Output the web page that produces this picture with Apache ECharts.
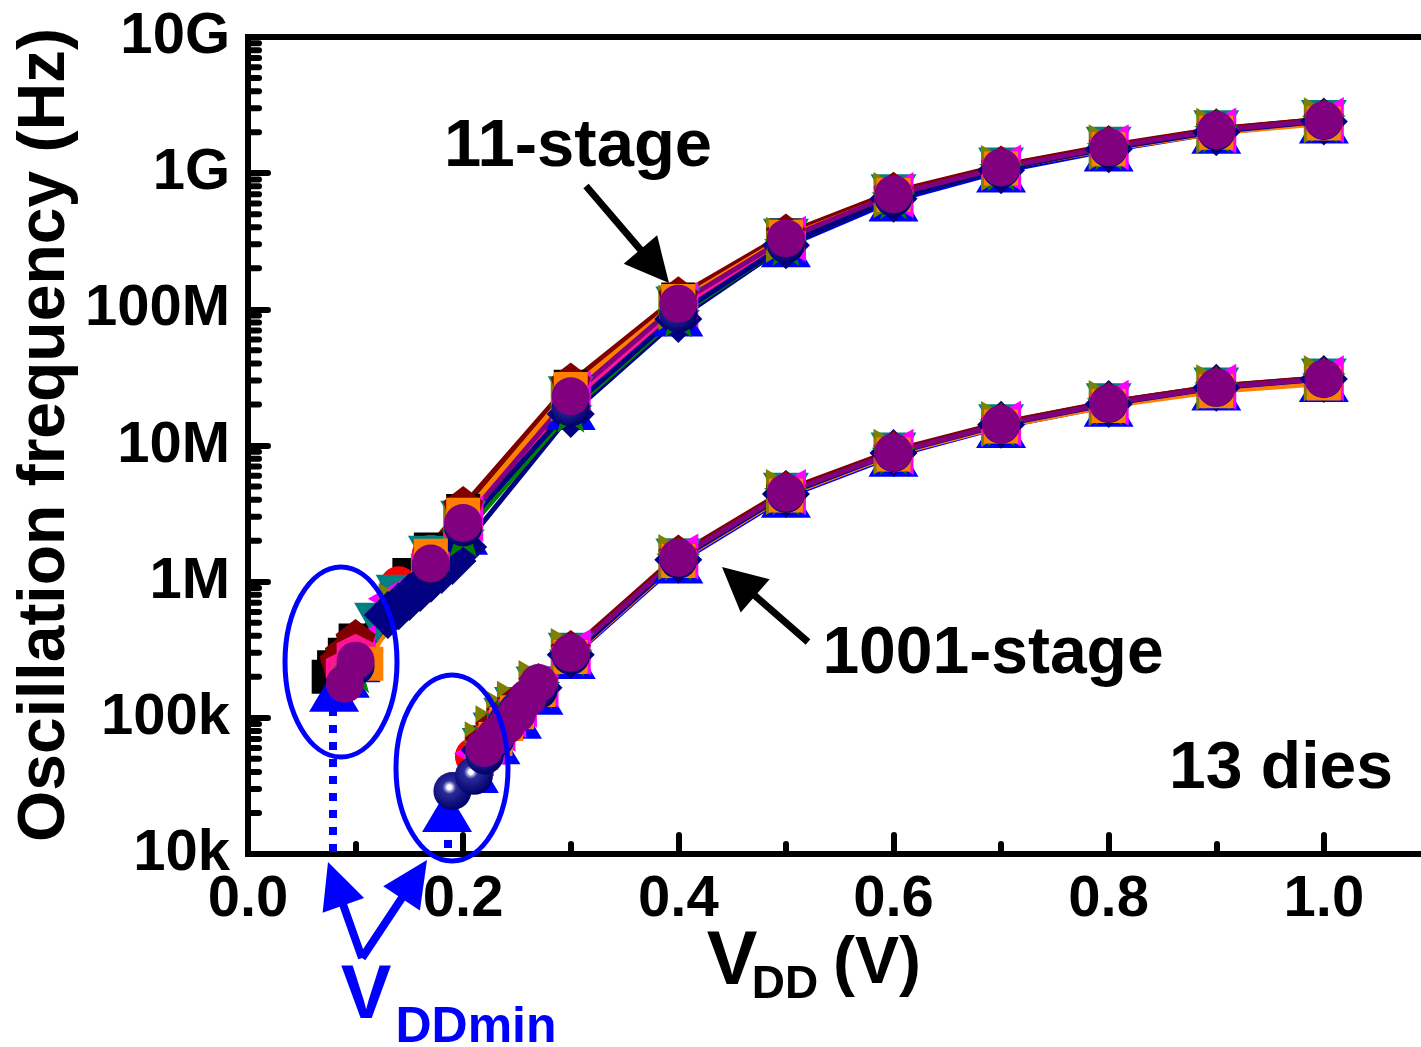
<!DOCTYPE html>
<html><head><meta charset="utf-8">
<script src="https://cdn.jsdelivr.net/npm/echarts@6/dist/echarts.min.js"></script>
<style>html,body{margin:0;padding:0;background:#fff}#c{width:1421px;height:1047px}</style>
</head><body><div id="c"></div>
<script>
// ---------- DATA ----------
const yTickLabels = ['10k','100k','1M','10M','100M','1G','10G'];
const yMinorTicks = [2e4,3e4,4e4,5e4,6e4,7e4,8e4,9e4,2e5,3e5,4e5,5e5,6e5,7e5,8e5,9e5,2e6,3e6,4e6,5e6,6e6,7e6,8e6,9e6,2e7,3e7,4e7,5e7,6e7,7e7,8e7,9e7,2e8,3e8,4e8,5e8,6e8,7e8,8e8,9e8,2e9,3e9,4e9,5e9,6e9,7e9,8e9,9e9];

const d01_11 = [[0.075,2.0e5],[0.08,2.35e5],[0.09,2.9e5],[0.1,3.7e5],[0.15,1.12e6],[0.17,1.72e6],[0.2,3.3e6],[0.3,2.7e7],[0.4,1.18e8],[0.5,3.5e8],[0.6,7.2e8],[0.7,1.13e9],[0.8,1.58e9],[0.9,2.1e9],[1.0,2.5e9]];
const d01_1001 = [[0.22,6.6e4],[0.23,8.3e4],[0.24,1.05e5],[0.25,1.26e5],[0.27,1.78e5],[0.3,3.1e5],[0.4,1.55e6],[0.5,4.6e6],[0.6,9.1e6],[0.7,1.46e7],[0.8,2.08e7],[0.9,2.72e7],[1.0,3.15e7]];
const d02_11 = [[0.09,2.5e5],[0.1,3.2e5],[0.14,9.4e5],[0.17,1.6e6],[0.2,3.0e6],[0.3,2.5e7],[0.4,1.12e8],[0.5,3.4e8],[0.6,7.1e8],[0.7,1.12e9],[0.8,1.57e9],[0.9,2.08e9],[1.0,2.47e9]];
const d02_1001 = [[0.21,5.2e4],[0.22,6.3e4],[0.23,8.1e4],[0.24,1.03e5],[0.25,1.23e5],[0.27,1.72e5],[0.3,2.95e5],[0.4,1.5e6],[0.5,4.5e6],[0.6,8.9e6],[0.7,1.43e7],[0.8,2.03e7],[0.9,2.66e7],[1.0,3.08e7]];
const d03_11 = [[0.08,1.58e5],[0.09,2.0e5],[0.1,2.6e5],[0.2,2.25e6],[0.3,1.85e7],[0.4,9.0e7],[0.5,2.9e8],[0.6,6.3e8],[0.7,1.03e9],[0.8,1.47e9],[0.9,1.98e9],[1.0,2.36e9]];
const d03_1001 = [[0.185,2.07e4],[0.21,4.0e4],[0.23,6.5e4],[0.25,1.0e5],[0.27,1.5e5],[0.3,2.75e5],[0.4,1.38e6],[0.5,4.2e6],[0.6,8.4e6],[0.7,1.37e7],[0.8,1.96e7],[0.9,2.58e7],[1.0,2.98e7]];
const d04_11 = [[0.12,5.0e5],[0.14,8.0e5],[0.17,1.55e6],[0.2,2.8e6],[0.3,2.3e7],[0.4,1.05e8],[0.5,3.3e8],[0.6,7.0e8],[0.7,1.1e9],[0.8,1.56e9],[0.9,2.07e9],[1.0,2.46e9]];
const d04_1001 = [[0.22,6.0e4],[0.23,7.8e4],[0.24,1.0e5],[0.25,1.2e5],[0.27,1.7e5],[0.3,3.0e5],[0.4,1.48e6],[0.5,4.5e6],[0.6,8.9e6],[0.7,1.43e7],[0.8,2.04e7],[0.9,2.67e7],[1.0,3.1e7]];
const d05_11 = [[0.1,3.3e5],[0.13,7.5e5],[0.17,1.5e6],[0.2,2.9e6],[0.3,2.4e7],[0.4,1.08e8],[0.5,3.3e8],[0.6,6.9e8],[0.7,1.1e9],[0.8,1.55e9],[0.9,2.06e9],[1.0,2.46e9]];
const d05_1001 = [[0.21,5.5e4],[0.22,6.6e4],[0.23,8.3e4],[0.24,1.05e5],[0.25,1.25e5],[0.27,1.75e5],[0.3,3.05e5],[0.4,1.53e6],[0.5,4.55e6],[0.6,9.0e6],[0.7,1.45e7],[0.8,2.06e7],[0.9,2.7e7],[1.0,3.12e7]];
const d06_11 = [[0.14,6.6e5],[0.17,1.1e6],[0.2,2.5e6],[0.3,2.2e7],[0.4,1.03e8],[0.5,3.25e8],[0.6,6.9e8],[0.7,1.09e9],[0.8,1.55e9],[0.9,2.05e9],[1.0,2.45e9]];
const d06_1001 = [[0.22,6.4e4],[0.23,8.4e4],[0.24,1.07e5],[0.25,1.27e5],[0.27,1.8e5],[0.3,3.1e5],[0.4,1.52e6],[0.5,4.55e6],[0.6,9.0e6],[0.7,1.44e7],[0.8,2.05e7],[0.9,2.68e7],[1.0,3.12e7]];
const d07_11 = [[0.13,5.7e5],[0.14,6.6e5],[0.15,7.7e5],[0.16,9.0e5],[0.17,1.05e6],[0.18,1.22e6],[0.19,1.42e6],[0.2,1.8e6],[0.3,1.7e7],[0.4,8.5e7],[0.5,2.95e8],[0.6,6.5e8],[0.7,1.05e9],[0.8,1.5e9],[0.9,2.0e9],[1.0,2.4e9]];
const d07_1001 = [[0.22,5.8e4],[0.23,7.6e4],[0.24,9.8e4],[0.25,1.18e5],[0.27,1.66e5],[0.3,2.9e5],[0.4,1.45e6],[0.5,4.4e6],[0.6,8.8e6],[0.7,1.42e7],[0.8,2.02e7],[0.9,2.65e7],[1.0,3.08e7]];
const d08_11 = [[0.085,2.6e5],[0.09,3.0e5],[0.1,3.8e5],[0.2,3.6e6],[0.3,2.9e7],[0.4,1.25e8],[0.5,3.6e8],[0.6,7.3e8],[0.7,1.14e9],[0.8,1.6e9],[0.9,2.12e9],[1.0,2.5e9]];
const d08_1001 = [[0.22,6.6e4],[0.23,8.5e4],[0.24,1.07e5],[0.25,1.28e5],[0.27,1.8e5],[0.3,3.15e5],[0.4,1.58e6],[0.5,4.7e6],[0.6,9.2e6],[0.7,1.47e7],[0.8,2.09e7],[0.9,2.73e7],[1.0,3.16e7]];
const d09_11 = [[0.09,2.3e5],[0.1,3.0e5],[0.17,1.4e6],[0.2,2.5e6],[0.3,2.1e7],[0.4,1.0e8],[0.5,3.2e8],[0.6,6.8e8],[0.7,1.08e9],[0.8,1.53e9],[0.9,2.04e9],[1.0,2.43e9]];
const d09_1001 = [[0.22,5.7e4],[0.23,7.4e4],[0.24,9.6e4],[0.25,1.16e5],[0.27,1.65e5],[0.3,2.85e5],[0.4,1.45e6],[0.5,4.4e6],[0.6,8.7e6],[0.7,1.41e7],[0.8,2.01e7],[0.9,2.63e7],[1.0,3.05e7]];
const d10_11 = [[0.1,2.2e5],[0.2,2.2e6],[0.3,1.8e7],[0.4,9.0e7],[0.5,3.0e8],[0.6,6.6e8],[0.7,1.07e9],[0.8,1.52e9],[0.9,2.03e9],[1.0,2.42e9]];
const d10_1001 = [[0.22,6.0e4],[0.23,7.8e4],[0.24,9.9e4],[0.25,1.19e5],[0.27,1.68e5],[0.3,2.9e5],[0.4,1.47e6],[0.5,4.45e6],[0.6,8.8e6],[0.7,1.42e7],[0.8,2.03e7],[0.9,2.66e7],[1.0,3.09e7]];
const d11_11 = [[0.11,2.5e5],[0.17,1.55e6],[0.2,3.1e6],[0.3,2.6e7],[0.4,1.15e8],[0.5,3.4e8],[0.6,6.9e8],[0.7,1.08e9],[0.8,1.5e9],[0.9,1.98e9],[1.0,2.32e9]];
const d11_1001 = [[0.23,7.0e4],[0.24,9.0e4],[0.25,1.1e5],[0.27,1.6e5],[0.3,2.8e5],[0.4,1.42e6],[0.5,4.3e6],[0.6,8.6e6],[0.7,1.38e7],[0.8,1.95e7],[0.9,2.5e7],[1.0,2.85e7]];
const d12_11 = [[0.1,2.4e5],[0.17,1.3e6],[0.2,2.5e6],[0.3,1.9e7],[0.4,9.3e7],[0.5,3.0e8],[0.6,6.6e8],[0.7,1.07e9],[0.8,1.52e9],[0.9,2.02e9],[1.0,2.42e9]];
const d12_1001 = [[0.19,2.9e4],[0.21,3.75e4],[0.22,5.3e4],[0.23,7.0e4],[0.24,9.2e4],[0.25,1.12e5],[0.27,1.6e5],[0.3,2.85e5],[0.4,1.45e6],[0.5,4.4e6],[0.6,8.8e6],[0.7,1.42e7],[0.8,2.02e7],[0.9,2.65e7],[1.0,3.08e7]];
const d13_11 = [[0.09,1.78e5],[0.1,2.63e5],[0.17,1.36e6],[0.2,2.7e6],[0.3,2.3e7],[0.4,1.1e8],[0.5,3.33e8],[0.6,7.0e8],[0.7,1.1e9],[0.8,1.55e9],[0.9,2.07e9],[1.0,2.45e9]];
const d13_1001 = [[0.22,6.0e4],[0.23,7.3e4],[0.24,8.8e4],[0.25,1.07e5],[0.26,1.4e5],[0.27,1.8e5],[0.3,3.0e5],[0.4,1.5e6],[0.5,4.5e6],[0.6,8.9e6],[0.7,1.43e7],[0.8,2.04e7],[0.9,2.67e7],[1.0,3.1e7]];

// ---------- STYLE ----------
const FONT = '"Liberation Sans", Arial, sans-serif';
const PENTAGON = 'path://M0,-10 L9.51,-3.09 L5.88,8.09 L-5.88,8.09 L-9.51,-3.09 Z';
const HEXAGON = 'path://M0,-10 L8.66,-5 L8.66,5 L0,10 L-8.66,5 L-8.66,-5 Z';
const STAR = 'path://M0,-10 L2.35,-3.24 L9.51,-3.09 L3.8,1.24 L5.88,8.09 L0,4 L-5.88,8.09 L-3.8,1.24 L-9.51,-3.09 L-2.35,-3.24 Z';
const sphere = {type:'radial', x:0.42, y:0.4, r:0.6, colorStops:[
  {offset:0, color:'#ffffff'},{offset:0.1, color:'#ffffff'},{offset:0.18, color:'#9a9ad0'},
  {offset:0.3, color:'#2a2a9a'},{offset:1, color:'#00006a'}]};
const TRI = [46, 40];

const dies = [
  {c:'#000000', sym:'rect', size:34, rot:0, a:d01_11, b:d01_1001},
  {c:'#FF0000', sym:'circle', size:38, rot:0, a:d02_11, b:d02_1001},
  {c:'#0000FF', sym:'triangle', size:[50,42], rot:0, a:d03_11, b:d03_1001},
  {c:'#008080', sym:'triangle', size:TRI, rot:180, a:d04_11, b:d04_1001},
  {c:'#FF00FF', sym:'triangle', size:TRI, rot:90, a:d05_11, b:d05_1001},
  {c:'#808000', sym:'triangle', size:TRI, rot:-90, a:d06_11, b:d06_1001},
  {c:'#000080', sym:'diamond', size:48, rot:0, a:d07_11, b:d07_1001},
  {c:'#800000', sym:PENTAGON, size:40, rot:0, a:d08_11, b:d08_1001},
  {c:'#FF1493', sym:HEXAGON, size:38, rot:0, a:d09_11, b:d09_1001},
  {c:'#008000', sym:STAR, size:44, rot:0, a:d10_11, b:d10_1001},
  {c:'#FF8000', sym:'rect', size:34, rot:0, a:d11_11, b:d11_1001},
  {c:'#000080', fill:sphere, sym:'circle', size:38, rot:0, a:d12_11, b:d12_1001},
  {c:'#800080', sym:'circle', size:38, rot:0, a:d13_11, b:d13_1001}
];

const series = [];
dies.forEach(d => {
  [d.a, d.b].forEach(arr => series.push({
    type:'line', data:arr, symbol:'none', z:2, silent:true,
    lineStyle:{color:d.c, width:5}, animation:false
  }));
});
dies.forEach(d => {
  [d.a, d.b].forEach(arr => series.push({
    type:'scatter', data:arr, symbol:d.sym, symbolSize:d.size, symbolRotate:d.rot, z:3, silent:true,
    itemStyle:{color:d.fill || d.c, opacity:1}, animation:false
  }));
});
// minor ticks of the log axis
series.push({
  type:'custom', z:4, silent:true, animation:false, clip:false,
  data: yMinorTicks.map(v => [0, v]),
  renderItem: (params, api) => {
    const p = api.coord([0, api.value(1)]);
    return {type:'line', shape:{x1:p[0], y1:p[1], x2:p[0]+11, y2:p[1]},
      style:{stroke:'#000', lineWidth:6, lineCap:'round'}};
  }
});

function arrow(tail, tip, len, hw, color, lw) {
  const dx = tip[0]-tail[0], dy = tip[1]-tail[1];
  const L = Math.hypot(dx, dy), ux = dx/L, uy = dy/L;
  const bx = tip[0]-ux*len, by = tip[1]-uy*len;
  return [
    {type:'line', z:100, shape:{x1:tail[0], y1:tail[1], x2:bx+ux*5, y2:by+uy*5}, style:{stroke:color, lineWidth:lw}},
    {type:'polygon', z:100, shape:{points:[tip, [bx - uy*hw, by + ux*hw], [bx + uy*hw, by - ux*hw]]}, style:{fill:color}}
  ];
}
function txt(x, y, s, size, color, extra) {
  return Object.assign({type:'text', z:100, x:x, y:y, style:{text:s, fill:color||'#000',
    fontFamily:FONT, fontWeight:'bold', fontSize:size, align:'center', verticalAlign:'middle'}}, extra||{});
}
const BLUE = '#0000FF';
const graphic = [
  {type:'ellipse', z:100, shape:{cx:341, cy:662, rx:56, ry:95}, style:{fill:null, stroke:BLUE, lineWidth:5}},
  {type:'ellipse', z:100, shape:{cx:452, cy:768, rx:56, ry:93}, style:{fill:null, stroke:BLUE, lineWidth:5}},
  {type:'line', z:100, shape:{x1:333, y1:708, x2:333, y2:852}, style:{stroke:BLUE, lineWidth:8, lineDash:[8,9]}},
  {type:'line', z:100, shape:{x1:448, y1:823, x2:448, y2:852}, style:{stroke:BLUE, lineWidth:8, lineDash:[8,9]}},
  ...arrow([586,186],[669,283],44,22,'#000',7),
  ...arrow([808,642],[722,567],44,22,'#000',7),
  ...arrow([362,958],[328,862],46,22,BLUE,8),
  ...arrow([362,958],[427,860],46,22,BLUE,8),
  txt(578, 148, '11-stage', 67),
  txt(993, 655, '1001-stage', 66),
  txt(1281, 770, '13 dies', 66),
  txt(46, 435, 'Oscillation frequency (Hz)', 66, '#000', {rotation:Math.PI/2}),
  txt(732, 963, 'V', 76),
  txt(785, 985, 'DD', 46),
  txt(877, 965, '(V)', 66),
  txt(366, 997, 'V', 76, BLUE),
  txt(476, 1028, 'DDmin', 50, BLUE)
];

const chart = echarts.init(document.getElementById('c'), null, {renderer:'canvas'});
chart.setOption({
  animation:false,
  backgroundColor:'#fff',
  grid:{left:248, top:37, right:-118, bottom:193, outerBoundsMode:'none', containLabel:false},
  xAxis:[{
    type:'value', min:0, max:1.2, interval:0.2, position:'bottom',
    axisLine:{show:true, onZero:false, lineStyle:{color:'#000', width:6, cap:'square'}},
    axisTick:{show:true, inside:true, length:19, lineStyle:{color:'#000', width:6, cap:'round'}},
    minorTick:{show:true, splitNumber:2, length:10, lineStyle:{color:'#000', width:6, cap:'round'}},
    splitLine:{show:false}, minorSplitLine:{show:false},
    axisLabel:{show:true, margin:17, color:'#000', fontFamily:FONT, fontWeight:'bold', fontSize:58,
      formatter:v => v.toFixed(1)}
  },{
    type:'value', min:0, max:1.2, position:'top',
    axisLine:{show:true, onZero:false, lineStyle:{color:'#000', width:6, cap:'square'}},
    axisTick:{show:false}, axisLabel:{show:false}, splitLine:{show:false}
  }],
  yAxis:{
    type:'log', logBase:10, min:1e4, max:1e10, splitNumber:6,
    axisLine:{show:true, onZero:false, lineStyle:{color:'#000', width:6, cap:'square'}},
    axisTick:{show:true, inside:true, length:20, lineStyle:{color:'#000', width:6, cap:'round'}},
    splitLine:{show:false},
    axisLabel:{show:true, margin:18, color:'#000', fontFamily:FONT, fontWeight:'bold', fontSize:58,
      formatter:v => yTickLabels[Math.round(Math.log10(v)) - 4]}
  },
  series: series,
  graphic: graphic
});
</script></body></html>
